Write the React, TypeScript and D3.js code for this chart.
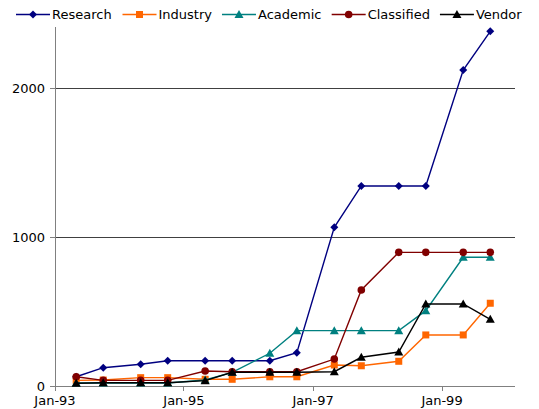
import React from "react";
import * as d3 from "d3";

const dates = [
  "1993-05-01", "1993-10-01", "1994-05-01", "1994-10-01",
  "1995-05-01", "1995-10-01", "1996-05-01", "1996-10-01",
  "1997-05-01", "1997-10-01", "1998-05-01", "1998-10-01",
  "1999-05-01", "1999-10-01",
];

const research = [62, 123, 146, 170, 170, 170, 170, 224, 1066, 1344, 1344, 1344, 2123, 2383];
const industry = [38, 40, 56, 56, 45, 45, 62, 62, 141, 136, 166, 343, 343, 556];
const academic = [20, 20, 20, 20, 40, 92, 220, 372, 372, 372, 372, 506, 865, 865];
const classified = [62, 38, 38, 38, 101, 96, 96, 96, 181, 645, 898, 898, 898, 898];
const vendor = [18, 22, 22, 22, 36, 92, 92, 92, 96, 193, 228, 551, 551, 448];

const seriesNames = ["Research", "Industry", "Academic", "Classified", "Vendor"];
const seriesColors = ["#000080", "#FF6600", "#008080", "#800000", "#000000"];
const seriesMarkers = ["diamond", "square", "triangle", "circle", "triangle"];
const seriesValues = [research, industry, academic, classified, vendor];

const yTicks = [0, 1000, 2000];
const xTickLabels = ["Jan-93", "Jan-95", "Jan-97", "Jan-99"];
const xTickDates = ["1993-01-01", "1995-01-01", "1997-01-01", "1999-01-01"];

const W = 539;
const H = 409;
const FONT = "'DejaVu Sans', Verdana, sans-serif";

function parse(s: string) {
  const [y, m, d] = s.split("-").map(Number);
  return new Date(y, m - 1, d);
}

function Marker({ type, x, y, color }: { type: string; x: number; y: number; color: string }) {
  if (type === "diamond") {
    const s = 4;
    return <path d={`M${x},${y - s}L${x + s},${y}L${x},${y + s}L${x - s},${y}Z`} fill={color} />;
  }
  if (type === "square") {
    const s = 3.5;
    return <rect x={x - s} y={y - s} width={2 * s} height={2 * s} fill={color} />;
  }
  if (type === "triangle") {
    return <path d={`M${x},${y - 4.5}L${x + 4.5},${y + 3.5}L${x - 4.5},${y + 3.5}Z`} fill={color} />;
  }
  return <circle cx={x} cy={y} r={3.8} fill={color} />;
}

const charWidths: Record<string, number> = {
  R: 0.695, e: 0.615, s: 0.521, a: 0.613, r: 0.411, c: 0.55, h: 0.634,
  I: 0.295, n: 0.634, d: 0.635, u: 0.634, t: 0.392, y: 0.592,
  A: 0.684, m: 0.974, i: 0.278, C: 0.698, l: 0.278, f: 0.352,
  V: 0.684, o: 0.612,
};
const textW = (s: string, size: number) =>
  s.split("").reduce((acc, ch) => acc + (charWidths[ch] ?? 0.6), 0) * size;

export default function App() {
  const left = 55;
  const right = 515;
  const top = 27;
  const bottom = 386;

  const x = d3.scaleTime()
    .domain([parse("1993-01-01"), parse("2000-02-18")])
    .range([left, right]);
  const y = d3.scaleLinear().domain([0, 2412]).range([bottom, top]);

  const xs = dates.map(parse);
  const line = d3.line<number>()
    .x((_, i) => x(xs[i]))
    .y((v) => y(v));

  let lx = 16;
  const legendItems = seriesNames.map((name, i) => {
    const item = { name, i, x: lx };
    lx += 36 + textW(name, 13) + 10;
    return item;
  });

  return (
    <svg width={W} height={H} style={{ position: "absolute", left: 0, top: 0, background: "#fff" }}>
      {yTicks.filter((t) => t > 0).map((t) => (
        <line key={t} x1={left} x2={right} y1={y(t)} y2={y(t)} stroke="#404040" strokeWidth={1} shapeRendering="crispEdges" />
      ))}
      <line x1={left} x2={left} y1={top} y2={bottom} stroke="#808080" strokeWidth={1} shapeRendering="crispEdges" />
      {yTicks.map((t) => (
        <g key={t}>
          <line x1={left - 5} x2={left} y1={y(t)} y2={y(t)} stroke="#808080" shapeRendering="crispEdges" />
          <text x={left - 10} y={y(t)} dy="0.35em" textAnchor="end" fontFamily={FONT} fontSize={13} fill="#000">
            {t}
          </text>
        </g>
      ))}
      <line x1={left} x2={right} y1={bottom} y2={bottom} stroke="#808080" strokeWidth={1} shapeRendering="crispEdges" />
      {xTickDates.map((d, i) => (
        <g key={d}>
          <line x1={x(parse(d))} x2={x(parse(d))} y1={bottom} y2={bottom + 5} stroke="#808080" shapeRendering="crispEdges" />
          <text x={x(parse(d))} y={bottom + 19} textAnchor="middle" fontFamily={FONT} fontSize={13} fill="#000">
            {xTickLabels[i]}
          </text>
        </g>
      ))}
      {seriesValues.map((vals, si) => (
        <g key={si}>
          <path d={line(vals) || ""} fill="none" stroke={seriesColors[si]} strokeWidth={1.4} />
          {vals.map((v, i) => (
            <Marker key={i} type={seriesMarkers[si]} x={x(xs[i])} y={y(v)} color={seriesColors[si]} />
          ))}
        </g>
      ))}
      {legendItems.map((it) => (
        <g key={it.name}>
          <line x1={it.x} x2={it.x + 34} y1={14.5} y2={14.5} stroke={seriesColors[it.i]} strokeWidth={1.4} />
          <Marker type={seriesMarkers[it.i]} x={it.x + 17} y={14.5} color={seriesColors[it.i]} />
          <text x={it.x + 36} y={14.5} dy="0.35em" fontFamily={FONT} fontSize={13} fill="#000">
            {it.name}
          </text>
        </g>
      ))}
    </svg>
  );
}
